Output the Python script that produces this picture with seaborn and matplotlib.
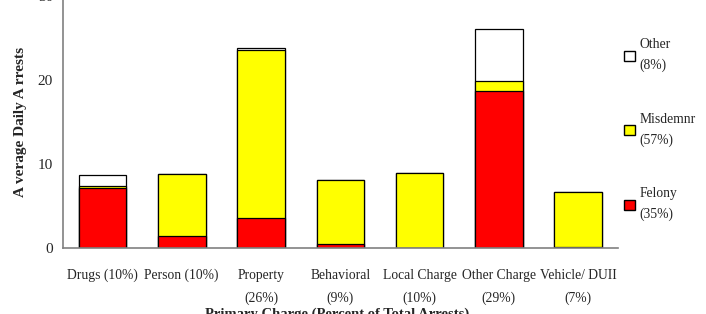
import numpy as np
import pandas as pd
import matplotlib
matplotlib.use('Agg')
import matplotlib.pyplot as plt
import seaborn as sns
from matplotlib.patches import Patch

# DATA
categories = ['Drugs (10%)', 'Person (10%)', 'Property\n(26%)', 'Behavioral\n(9%)',
              'Local Charge\n(10%)', 'Other Charge\n(29%)', 'Vehicle/ DUII\n(7%)']
felony = [7.1, 1.4, 3.6, 0.5, 0.0, 18.7, 0.15]
misdemnr = [0.3, 7.4, 20.0, 7.6, 8.9, 1.2, 6.55]
other = [1.3, 0.0, 0.2, 0.0, 0.0, 6.2, 0.0]
legend_labels = ['Other\n(8%)', 'Misdemnr\n(57%)', 'Felony\n(35%)']

sns.set_style('white')
plt.rcParams['font.family'] = ['Liberation Serif', 'DejaVu Serif']

df = pd.DataFrame({'charge': categories, 'felony': felony, 'misdemnr': misdemnr, 'other': other})
df['fel_mis'] = df['felony'] + df['misdemnr']
df['total'] = df['fel_mis'] + df['other']

fig = plt.figure(figsize=(7.06, 3.14), dpi=100)
ax = fig.add_axes([0.089, 0.21, 0.786, 0.803])

# stacked bars drawn as cumulative layers, biggest first
sns.barplot(data=df, x='charge', y='total', color='white', edgecolor='black',
            linewidth=0.9, width=0.6, saturation=1, ax=ax)
sns.barplot(data=df, x='charge', y='fel_mis', color='#FFFF00', edgecolor='black',
            linewidth=0.9, width=0.6, saturation=1, ax=ax)
sns.barplot(data=df, x='charge', y='felony', color='#FF0000', edgecolor='black',
            linewidth=0.9, width=0.6, saturation=1, ax=ax)

ax.set_ylim(0, 30)
ax.set_yticks([0, 10, 20, 30])
ax.set_xlim(-0.5, len(categories) - 0.5)
ax.tick_params(axis='x', length=0, labelsize=9.8, pad=15)
ax.tick_params(axis='y', length=0, labelsize=11, pad=7)
for t in ax.get_xticklabels():
    t.set_linespacing(1.9)
for s in ['top', 'right']:
    ax.spines[s].set_visible(False)
for s in ['left', 'bottom']:
    ax.spines[s].set_color('#808080')
    ax.spines[s].set_linewidth(1.2)

ax.set_xlabel('')
ax.set_ylabel('A verage Daily A rrests', fontsize=11, fontweight='bold', labelpad=8)

fig.text(0.477, -0.012, 'Primary Charge (Percent of Total Arrests)', ha='center',
         va='baseline', fontsize=10.5, fontweight='bold')
fig.text(0.41, 1.03, 'Average Daily Arrests by Charge Category', ha='center',
         va='baseline', fontsize=12, fontweight='bold')

handles = [Patch(facecolor='white', edgecolor='black'),
           Patch(facecolor='#FFFF00', edgecolor='black'),
           Patch(facecolor='#FF0000', edgecolor='black')]
leg = ax.legend(handles, legend_labels, loc='upper left', bbox_to_anchor=(0.99, 0.88),
                frameon=False, fontsize=9.8, handlelength=0.75, handleheight=0.75,
                handletextpad=0.35, labelspacing=3.0)
for t in leg.get_texts():
    t.set_linespacing(1.7)

plt.savefig('out.png', dpi=100)
